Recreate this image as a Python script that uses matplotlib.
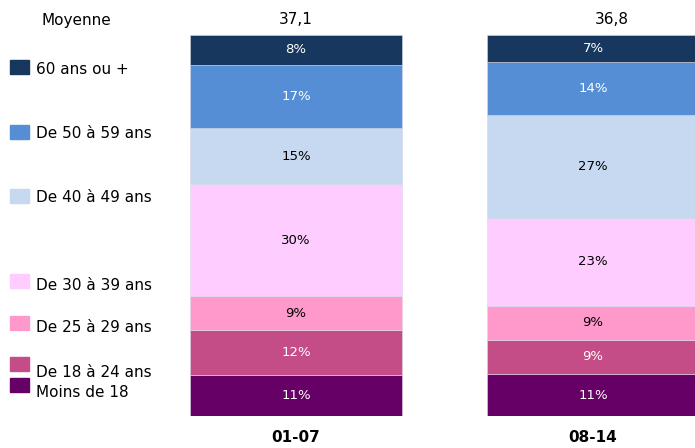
import matplotlib
matplotlib.use("Agg")
import matplotlib.pyplot as plt
from matplotlib.patches import Rectangle
import numpy as np

# age groups, bottom to top
groups = ["Moins de 18", "De 18 à 24 ans", "De 25 à 29 ans", "De 30 à 39 ans",
          "De 40 à 49 ans", "De 50 à 59 ans", "60 ans ou +"]
periods = ["01-07", "08-14"]
share_0107 = [11, 12, 9, 30, 15, 17, 8]
share_0814 = [11, 9, 9, 23, 27, 14, 7]
means = ["37,1", "36,8"]

colors = ["#660066", "#C44C87", "#FF99CC", "#FFCCFF", "#C6D9F1", "#558ED5", "#17375E"]
text_colors = ["white", "white", "black", "black", "black", "white", "white"]

fig = plt.figure(figsize=(6.95, 4.48), dpi=100)
ax = fig.add_axes([190 / 695, 32 / 448, 505 / 695, 381 / 448])

x = np.arange(len(periods))
width = 0.714
data = [share_0107, share_0814]
for i, vals in enumerate(data):
    vals = np.array(vals, dtype=float)
    heights = vals / vals.sum() * 100
    bottom = 0
    for j, h in enumerate(heights):
        ax.bar(x[i], h, width, bottom=bottom, color=colors[j],
               edgecolor="#d8d8e8", linewidth=0.4)
        ax.text(x[i], bottom + h / 2, f"{int(vals[j])}%", ha="center", va="center",
                fontsize=9.5, color=text_colors[j])
        bottom += h

ax.set_xlim(-0.357, 1.343)
ax.set_ylim(0, 100)
ax.axis("off")

# period labels and means
for i, p in enumerate(periods):
    fig.text((296 + 297 * i) / 695, 1 - 437 / 448, p, ha="center", va="center",
             fontsize=11, fontweight="bold")
fig.text(296 / 695, 1 - 20 / 448, means[0], ha="center", va="center", fontsize=11)
fig.text(612 / 695, 1 - 20 / 448, means[1], ha="center", va="center", fontsize=11)
fig.text(76 / 695, 1 - 20 / 448, "Moyenne", ha="center", va="center", fontsize=11)

# legend placed manually next to segments
square_y = [385, 364, 323, 281, 196, 132, 67]
text_y = [392, 372, 328, 285, 197, 133, 69]
for j in range(len(groups)):
    fig.patches.append(Rectangle((10 / 695, 1 - (square_y[j] + 7) / 448), 19 / 695, 14 / 448,
                                 transform=fig.transFigure, color=colors[j]))
    fig.text(36 / 695, 1 - text_y[j] / 448, groups[j], ha="left", va="center", fontsize=11)

fig.savefig("out.png", dpi=100)
